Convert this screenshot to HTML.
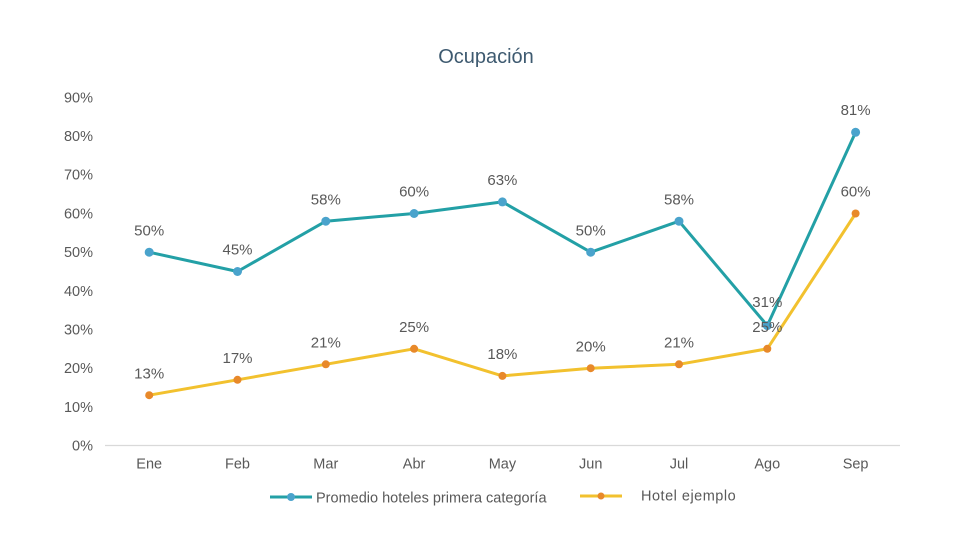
<!DOCTYPE html>
<html><head><meta charset="utf-8"><style>
html,body{margin:0;padding:0;background:#fff;}
svg{display:block;}
text{font-family:"Liberation Sans",Arial,sans-serif;}
</style></head><body>
<svg width="960" height="539" viewBox="0 0 960 539" xmlns="http://www.w3.org/2000/svg">
<rect width="960" height="539" fill="#fff"/>
<text x="486" y="63" font-size="20" fill="#3e5a70" text-anchor="middle">Ocupación</text>
<g font-size="14.5" fill="#595959" text-anchor="end">
<text x="93" y="450.5">0%</text>
<text x="93" y="412">10%</text>
<text x="93" y="373.2">20%</text>
<text x="93" y="334.5">30%</text>
<text x="93" y="295.8">40%</text>
<text x="93" y="257.1">50%</text>
<text x="93" y="218.4">60%</text>
<text x="93" y="179.7">70%</text>
<text x="93" y="141">80%</text>
<text x="93" y="102.4">90%</text>
</g>
<line x1="105" y1="445.5" x2="900" y2="445.5" stroke="#d9d9d9" stroke-width="1.3"/>
<g font-size="14.5" fill="#595959" text-anchor="middle">
<text x="149.2" y="468.5">Ene</text>
<text x="237.5" y="468.5">Feb</text>
<text x="325.8" y="468.5">Mar</text>
<text x="414.1" y="468.5">Abr</text>
<text x="502.4" y="468.5">May</text>
<text x="590.7" y="468.5">Jun</text>
<text x="679" y="468.5">Jul</text>
<text x="767.3" y="468.5">Ago</text>
<text x="855.6" y="468.5">Sep</text>
</g>
<polyline fill="none" stroke="#f2c12e" stroke-width="3" stroke-linejoin="round" points="149.2,395.2 237.5,379.8 325.8,364.3 414.1,348.8 502.4,375.9 590.7,368.2 679,364.3 767.3,348.8 855.6,213.5"/>
<g fill="#e8892a">
<circle cx="149.2" cy="395.2" r="4"/><circle cx="237.5" cy="379.8" r="4"/><circle cx="325.8" cy="364.3" r="4"/><circle cx="414.1" cy="348.8" r="4"/><circle cx="502.4" cy="375.9" r="4"/><circle cx="590.7" cy="368.2" r="4"/><circle cx="679" cy="364.3" r="4"/><circle cx="767.3" cy="348.8" r="4"/><circle cx="855.6" cy="213.5" r="4"/>
</g>
<polyline fill="none" stroke="#23a0a6" stroke-width="3" stroke-linejoin="round" points="149.2,252.2 237.5,271.5 325.8,221.2 414.1,213.5 502.4,201.9 590.7,252.2 679,221.2 767.3,325.6 855.6,132.3"/>
<g fill="#4aa3cc">
<circle cx="149.2" cy="252.2" r="4.5"/><circle cx="237.5" cy="271.5" r="4.5"/><circle cx="325.8" cy="221.2" r="4.5"/><circle cx="414.1" cy="213.5" r="4.5"/><circle cx="502.4" cy="201.9" r="4.5"/><circle cx="590.7" cy="252.2" r="4.5"/><circle cx="679" cy="221.2" r="4.5"/><circle cx="767.3" cy="325.6" r="4.5"/><circle cx="855.6" cy="132.3" r="4.5"/>
</g>
<g font-size="15" fill="#595959" text-anchor="middle">
<text x="149.2" y="235.5">50%</text>
<text x="237.5" y="254.5">45%</text>
<text x="325.8" y="204.5">58%</text>
<text x="414.1" y="196.5">60%</text>
<text x="502.4" y="185">63%</text>
<text x="590.7" y="235.5">50%</text>
<text x="679" y="204.5">58%</text>
<text x="767.3" y="307">31%</text>
<text x="855.6" y="115">81%</text>
<text x="149.2" y="378.5">13%</text>
<text x="237.5" y="363">17%</text>
<text x="325.8" y="347.5">21%</text>
<text x="414.1" y="332">25%</text>
<text x="502.4" y="359">18%</text>
<text x="590.7" y="351.5">20%</text>
<text x="679" y="347.5">21%</text>
<text x="767.3" y="332">25%</text>
<text x="855.6" y="196.5">60%</text>
</g>
<line x1="270" y1="497" x2="312" y2="497" stroke="#23a0a6" stroke-width="3"/>
<circle cx="291" cy="497" r="4" fill="#4aa3cc"/>
<text x="316" y="502.5" font-size="14.5" fill="#595959">Promedio hoteles primera categoría</text>
<line x1="580" y1="496" x2="622" y2="496" stroke="#f2c12e" stroke-width="3"/>
<circle cx="601" cy="496" r="3.5" fill="#e8892a"/>
<text x="641" y="500.5" font-size="14.5" fill="#595959" letter-spacing="0.5">Hotel ejemplo</text>
</svg>
</body></html>
